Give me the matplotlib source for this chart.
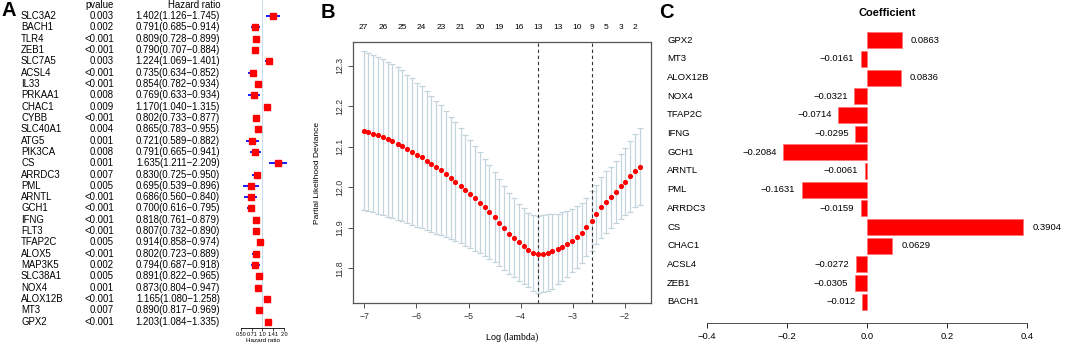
import numpy as np
import matplotlib
matplotlib.use("Agg")
import matplotlib.pyplot as plt

plt.rcParams['font.family'] = ['Liberation Sans', 'DejaVu Sans']

# ---- panel A: univariate cox table ----
genes_a = ["SLC3A2", "BACH1", "TLR4", "ZEB1", "SLC7A5", "ACSL4", "IL33", "PRKAA1",
           "CHAC1", "CYBB", "SLC40A1", "ATG5", "PIK3CA", "CS", "ARRDC3", "PML",
           "ARNTL", "GCH1", "IFNG", "FLT3", "TFAP2C", "ALOX5", "MAP3K5", "SLC38A1",
           "NOX4", "ALOX12B", "MT3", "GPX2"]
pvals = ["0.003", "0.002", "<0.001", "<0.001", "0.003", "<0.001", "<0.001", "0.008",
         "0.009", "<0.001", "0.004", "0.001", "0.008", "0.001", "0.007", "0.005",
         "<0.001", "<0.001", "<0.001", "<0.001", "0.005", "<0.001", "0.002", "0.005",
         "0.001", "<0.001", "0.007", "<0.001"]
hr = [1.402, 0.791, 0.809, 0.790, 1.224, 0.735, 0.854, 0.769, 1.170, 0.802, 0.865, 0.721,
      0.791, 1.635, 0.830, 0.695, 0.686, 0.700, 0.818, 0.807, 0.914, 0.802, 0.794, 0.891,
      0.873, 1.165, 0.890, 1.203]
hr_lo = [1.126, 0.685, 0.728, 0.707, 1.069, 0.634, 0.782, 0.633, 1.040, 0.733, 0.783, 0.589,
         0.665, 1.211, 0.725, 0.539, 0.560, 0.616, 0.761, 0.732, 0.858, 0.723, 0.687, 0.822,
         0.804, 1.080, 0.817, 1.084]
hr_hi = [1.745, 0.914, 0.899, 0.884, 1.401, 0.852, 0.934, 0.934, 1.315, 0.877, 0.955, 0.882,
         0.941, 2.209, 0.950, 0.896, 0.840, 0.795, 0.879, 0.890, 0.974, 0.889, 0.918, 0.965,
         0.947, 1.258, 0.969, 1.335]
hr_ticks = [0.50, 0.71, 1.0, 1.41, 2.0]
hr_ticklabels = ["0.50", "0.71", "1.0", "1.41", "2.0"]

# ---- panel B: lasso cv curve ----
log_lambda = [-7.01, -6.92, -6.83, -6.73, -6.64, -6.55, -6.46, -6.36, -6.27, -6.18,
              -6.08, -5.99, -5.90, -5.80, -5.71, -5.62, -5.53, -5.43, -5.34, -5.25,
              -5.15, -5.06, -4.97, -4.87, -4.78, -4.69, -4.60, -4.50, -4.41, -4.32,
              -4.22, -4.13, -4.04, -3.94, -3.85, -3.76, -3.67, -3.57, -3.48, -3.39,
              -3.29, -3.20, -3.11, -3.01, -2.92, -2.83, -2.74, -2.64, -2.55, -2.46,
              -2.36, -2.27, -2.18, -2.08, -1.99, -1.90, -1.81, -1.71]
cvm = [12.139, 12.136, 12.132, 12.128, 12.124, 12.119, 12.114, 12.108, 12.102, 12.094,
       12.088, 12.080, 12.074, 12.066, 12.058, 12.050, 12.042, 12.033, 12.023, 12.014,
       12.004, 11.993, 11.983, 11.973, 11.962, 11.951, 11.939, 11.926, 11.913, 11.900,
       11.886, 11.876, 11.865, 11.855, 11.845, 11.838, 11.835, 11.836, 11.839, 11.842,
       11.847, 11.854, 11.861, 11.868, 11.877, 11.888, 11.902, 11.917, 11.933, 11.951,
       11.964, 11.975, 11.988, 12.002, 12.014, 12.027, 12.041, 12.051]
cvsd = [0.196, 0.195, 0.194, 0.193, 0.192, 0.191, 0.189, 0.188, 0.186, 0.183,
        0.181, 0.178, 0.175, 0.172, 0.168, 0.164, 0.160, 0.155, 0.151, 0.146,
        0.141, 0.137, 0.133, 0.129, 0.125, 0.120, 0.115, 0.111, 0.107, 0.103,
        0.100, 0.097, 0.095, 0.093, 0.092, 0.093, 0.095, 0.095, 0.095, 0.093,
        0.086, 0.084, 0.081, 0.078, 0.076, 0.074, 0.072, 0.074, 0.072, 0.075,
        0.076, 0.076, 0.077, 0.079, 0.082, 0.087, 0.090, 0.095]
nzero_idx = [0, 4, 8, 12, 16, 20, 24, 28, 32, 36, 40, 44, 47, 50, 53, 56]
nzero_lab = [27, 26, 25, 24, 23, 21, 20, 19, 16, 13, 13, 10, 9, 5, 3, 2]
lambda_min = -3.66
lambda_1se = -2.64

# ---- panel C: lasso coefficients ----
genes_c = ["GPX2", "MT3", "ALOX12B", "NOX4", "TFAP2C", "IFNG", "GCH1", "ARNTL", "PML",
           "ARRDC3", "CS", "CHAC1", "ACSL4", "ZEB1", "BACH1"]
coef = [0.0863, -0.0161, 0.0836, -0.0321, -0.0714, -0.0295, -0.2084, -0.0061, -0.1631,
        -0.0159, 0.3904, 0.0629, -0.0272, -0.0305, -0.012]

W, H = 1065, 346
fig = plt.figure(figsize=(W / 100, H / 100), dpi=100)


def px_axes(left, top, right, bottom):
    # place an axes by pixel box
    return fig.add_axes([left / W, 1 - bottom / H, (right - left) / W, (bottom - top) / H])


# ---------------- A ----------------
n = len(genes_a)
ys = np.arange(n)[::-1]
ylim_a = (-0.583, n - 1 + 1.413)

ax_t = px_axes(0, 0, 230, 328.3)
ax_t.set_xlim(0, 230)
ax_t.set_ylim(*ylim_a)
ax_t.axis("off")
fs = 6.9
for i in range(n):
    ax_t.text(21, ys[i], genes_a[i], fontsize=fs, ha="left", va="center")
    ax_t.text(114, ys[i], pvals[i], fontsize=fs, ha="right", va="center")
    ax_t.text(220, ys[i], f"{hr[i]:.3f}({hr_lo[i]:.3f}\u2212{hr_hi[i]:.3f})",
              fontsize=fs, ha="right", va="center")
ax_t.text(114, n - 1 + 0.945, "pvalue", fontsize=fs, ha="right", va="center")
ax_t.text(220, n - 1 + 0.945, "Hazard ratio", fontsize=fs, ha="right", va="center")

ax_f = px_axes(230, 0, 295, 328.3)
ax_f.set_xscale("log", base=2)
ax_f.set_xlim(0.356, 2.81)
ax_f.set_ylim(*ylim_a)
ax_f.axvline(1, color="#c9def0", lw=0.8, zorder=0)
ax_f.hlines(ys, hr_lo, hr_hi, color="#1a1aff", lw=1.4, zorder=2)
ax_f.plot(hr, ys, "s", color="red", ms=5, zorder=3)
for s in ["top", "right", "left"]:
    ax_f.spines[s].set_visible(False)
ax_f.spines["bottom"].set_bounds(0.5, 2.0)
ax_f.spines["bottom"].set_linewidth(0.6)
ax_f.set_yticks([])
ax_f.set_xticks(hr_ticks)
ax_f.set_xticklabels(hr_ticklabels)
ax_f.minorticks_off()
ax_f.tick_params(axis="x", labelsize=4, length=2, width=0.5, pad=1)
ax_f.set_xlabel("Hazard ratio", fontsize=4.5, labelpad=0.5)
ax_f.patch.set_alpha(0)

# ---------------- B ----------------
ax_b = px_axes(352.5, 41.7, 651, 303.3)
ax_b.errorbar(log_lambda, cvm, yerr=cvsd, fmt="none", ecolor="#c3d4dc",
              elinewidth=0.9, capsize=2.2, capthick=0.9, zorder=1)
ax_b.plot(log_lambda, cvm, "o", color="red", ms=2.7, mec="red", zorder=3)
ax_b.axvline(lambda_min, color="#333333", lw=0.8, ls=(0, (3, 2.5)), zorder=2)
ax_b.axvline(lambda_1se, color="#333333", lw=0.8, ls=(0, (3, 2.5)), zorder=2)
ax_b.set_xlim(-7.225, -1.50)
ax_b.set_ylim(11.714, 12.359)
ax_b.set_xticks([-7, -6, -5, -4, -3, -2])
ax_b.set_yticks([11.8, 11.9, 12.0, 12.1, 12.2, 12.3])
ax_b.set_yticklabels(["11.8", "11.9", "12.0", "12.1", "12.2", "12.3"])
ax_b.tick_params(labelsize=6.3, length=3.5, width=0.6, colors="#333333", pad=2.5)
plt.setp(ax_b.get_yticklabels(), rotation=90, va="center")
for s in ax_b.spines.values():
    s.set_linewidth(0.9)
    s.set_color("#555555")
ax_b.set_ylabel("Partial Likelihood Deviance", fontsize=6, labelpad=10)
tr = ax_b.get_xaxis_transform()
for k, lab in zip(nzero_idx, nzero_lab):
    ax_b.text(log_lambda[k], 1.055, str(lab), transform=tr, fontsize=6,
              ha="center", va="center")
fig.text(504 / W, 1 - 337 / H, "Log ", fontsize=6.5, ha="right", va="center",
         family="Liberation Sans")
fig.text(504 / W, 1 - 337 / H, "(lambda)", fontsize=7, ha="left", va="center",
         family="Liberation Serif")

# ---------------- C ----------------
m = len(genes_c)
yc = np.arange(m)[::-1]
ax_c = px_axes(706.7, 25, 1027.3, 323.3)
ax_c.set_xlim(-0.4, 0.4)
ax_c.set_ylim(-1.158, m - 1 + 0.82)
ax_c.barh(yc, coef, height=0.85, color="#ff0000", edgecolor="#ff7070", lw=0.5)
for i in range(m):
    lab = f"{coef[i]:g}".replace("-", "\u2212")
    if coef[i] >= 0:
        ax_c.text(coef[i] + 9 / 400.8, yc[i], lab, fontsize=6.8, ha="left", va="center",
                  clip_on=False)
    else:
        ax_c.text(coef[i] - 6.5 / 400.8, yc[i], lab, fontsize=6.8, ha="right", va="center",
                  clip_on=False)
    ax_c.text(-0.499, yc[i], genes_c[i], fontsize=6.8, ha="left", va="center", clip_on=False)
for s in ["top", "right", "left"]:
    ax_c.spines[s].set_visible(False)
ax_c.spines["bottom"].set_linewidth(0.6)
ax_c.spines["bottom"].set_color("#333333")
ax_c.set_yticks([])
ax_c.set_xticks([-0.4, -0.2, 0.0, 0.2, 0.4])
ax_c.set_xticklabels(["\u22120.4", "\u22120.2", "0.0", "0.2", "0.4"])
ax_c.tick_params(axis="x", labelsize=6.8, length=3.3, width=0.6, pad=3)
fig.text(887 / W, 1 - 12.7 / H, "Coefficient", fontsize=8, fontweight="bold",
         ha="center", va="center")

# panel letters
fig.text(1 / W, 1 - 1 / H, "A", fontsize=14.5, fontweight="bold", ha="left", va="top")
fig.text(321 / W, 1 - 2.5 / H, "B", fontsize=14.5, fontweight="bold", ha="left", va="top")
fig.text(659 / W, 1 - 3 / H, "C", fontsize=14.5, fontweight="bold", ha="left", va="top")

fig.savefig("out.png", dpi=100)
